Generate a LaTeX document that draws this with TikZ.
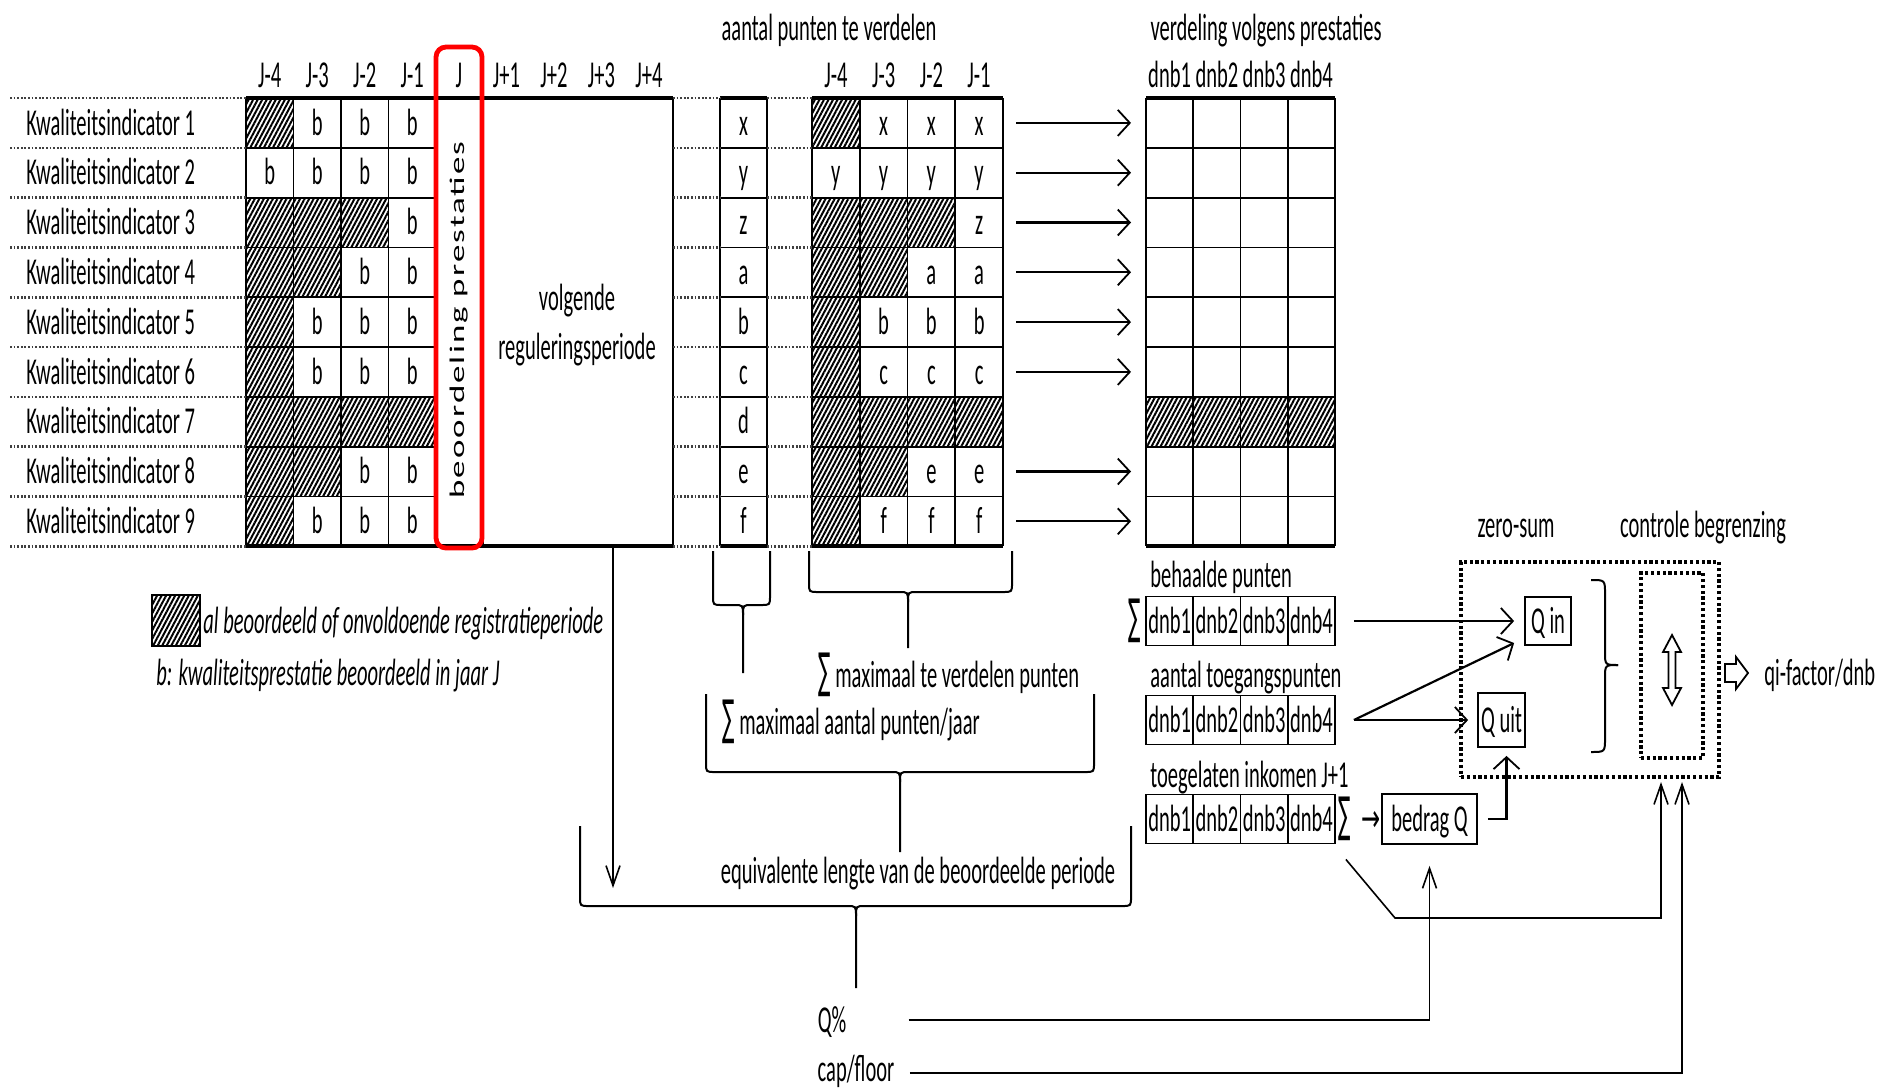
\documentclass[tikz,border=0pt]{standalone}
\usepackage{fontspec}
\setmainfont{Carlito}[FakeStretch=0.54]
\newfontfamily\symf{DejaVu Sans}[FakeStretch=0.38]
\newfontfamily\arrf{DejaVu Sans}[FakeStretch=0.6]
\newfontfamily\rotf{Carlito}[LetterSpace=6]
\usetikzlibrary{arrows.meta,patterns.meta}
\newcommand\Sig{{\symf\fontsize{24}{24}\selectfont ∑}}
\newcommand\mybrace[6]{%
 \draw[brace] (#1,#3) -- (#1,{#4-9}) .. controls (#1,#4) .. ({#1+9},#4) -- ({#5-9},#4) .. controls (#5,#4) .. (#5,{#4+10}) -- (#5,#6);
 \draw[brace] (#2,#3) -- (#2,{#4-9}) .. controls (#2,#4) .. ({#2-9},#4) -- ({#5+9},#4) .. controls (#5,#4) .. (#5,{#4+10});
}
\tikzset{
 txt/.style={font=\fontsize{19}{22}\selectfont, inner sep=0pt, text height=12.2pt, text depth=0pt},
 hatch/.style={pattern={Lines[angle=62,distance=2pt,line width=1pt]}},
 gridln/.style={line width=0.9pt},
 thickln/.style={line width=1.6pt},
 rowdot/.style={line width=1.3pt, dash pattern=on 0.9pt off 0.9pt, black!75},
 boxdot/.style={line width=2pt, dash pattern=on 1.6pt off 1.3pt},
 arr/.style={line width=1.1pt, -{Straight Barb[length=6pt,width=13pt,line width=0.9pt]}},
 thinarr/.style={line width=0.8pt, -{Straight Barb[length=10pt,width=7pt,line width=0.8pt]}},
 brace/.style={line width=1pt},
 cell/.style={txt, draw, line width=0.9pt, minimum width=23.6pt, minimum height=24.5pt},
}
\begin{document}
\begin{tikzpicture}[x=0.5pt,y=-0.5pt]
\useasboundingbox (0,0) rectangle (1877,1087);

% ---------- titles and headers
\node[txt] (t1) at (829,28) {aantal punten te verdelen};
\node[txt] (t2) at (1266,28) {verdeling volgens prestaties};
\foreach \t/\x [count=\n] in {J-4/269.75,J-3/317.25,J-2/364.75,J-1/412.25,J/459,J+1/506.5,J+2/554,J+3/601.5,J+4/649}
  \node[txt] (hl\n) at (\x,75) {\t};
\foreach \t/\x [count=\n] in {J-4/836,J-3/883.6,J-2/931.4,J-1/979}
  \node[txt] (hm\n) at (\x,75) {\t};
\foreach \t/\x [count=\n] in {dnb1/1169.6,dnb2/1216.9,dnb3/1264.1,dnb4/1311.4}
  \node[txt] (hr\n) at (\x,75) {\t};

% ---------- row labels
\foreach \i in {1,...,9}
  \node[txt,anchor=west] (k\i) at (26,{73.1+49.8*\i}) {Kwaliteitsindicator \i};

% ---------- cells: hatching and letters
\foreach \r/\h/\l in {1/1/x,2/0/y,3/3/z,4/2/a,5/1/b,6/1/c,7/4/d,8/2/e,9/1/f}{
  \pgfmathsetmacro\ya{98+49.8*(\r-1)}
  \pgfmathsetmacro\yc{\ya+24.9}
  \node[txt] (s\r) at (743.5,\yc) {\l};
  \foreach \c in {1,2,3,4}{
    \pgfmathsetmacro\xa{246+47.5*(\c-1)}
    \pgfmathsetmacro\xb{812+47.75*(\c-1)}
    \ifnum\c>\h
      \node[txt] (lb\r-\c) at ({\xa+23.75},\yc) {b};
      \node[txt] (mb\r-\c) at ({\xb+23.875},\yc) {\l};
    \else
      \fill[hatch] (\xa,\ya) rectangle ++(47.5,49.8);
      \fill[hatch] (\xb,\ya) rectangle ++(47.75,49.8);
    \fi
  }
}
\fill[hatch] (1146,396.8) rectangle (1335,446.6);

% ---------- grid lines
\foreach \x in {246,293.5,341,388.5} \draw[gridln] (\x,98) -- (\x,546);
\foreach \x in {720,767,812,859.75,907.5,955.25,1003,1146,1193.25,1240.5,1287.75,1335} \draw[gridln] (\x,98) -- (\x,546);
\foreach \k in {1,...,8}{
  \pgfmathsetmacro\yy{98+49.8*\k}
  \draw[gridln] (246,\yy) -- (436,\yy);
  \draw[gridln] (720,\yy) -- (767,\yy);
  \draw[gridln] (812,\yy) -- (1003,\yy);
  \draw[gridln] (1146,\yy) -- (1335,\yy);
}
\foreach \yy in {98,546}{
  \draw[thickln] (246,\yy) -- (673,\yy);
  \draw[thickln] (720,\yy) -- (767,\yy);
  \draw[thickln] (812,\yy) -- (1003,\yy);
  \draw[thickln] (1146,\yy) -- (1335,\yy);
}
\node[draw, gridln, minimum width=95pt, minimum height=224pt, inner sep=0pt] (volg) at (578,322) {};
\node[txt] (volg1) at (577,298) {volgende};
\node[txt] (volg2) at (577,347) {reguleringsperiode};

% dotted row lines
\foreach \k in {0,...,9}{
  \pgfmathsetmacro\yy{98+49.8*\k}
  \draw[rowdot] (10,\yy) -- (246,\yy);
  \draw[rowdot] (673,\yy) -- (720,\yy);
  \draw[rowdot] (767,\yy) -- (812,\yy);
}

% red J column
\draw[red, line width=2.4pt, rounded corners=5pt] (436,47) rectangle (482,548);
\node[rotate=90, inner sep=0pt] (beo) at (459,320) {\scalebox{0.97}[0.58]{\rotf\fontsize{18}{20}\selectfont beoordeling prestaties}};

% row arrows
\foreach \r in {1,2,3,4,5,6,8,9}{
  \coordinate (as\r) at (1016,{73.1+49.8*\r});
  \coordinate (ae\r) at (1131,{73.1+49.8*\r});
  \draw[arr] (as\r) -- (ae\r);
}

% ---------- legend
\filldraw[hatch, draw=black, line width=0.9pt] (152,595) rectangle (200,646);
\node[txt, anchor=west, font=\fontsize{19}{22}\selectfont\itshape] (leg1) at (203,621) {al beoordeeld of onvoldoende registratieperiode};
\node[txt, anchor=west, font=\fontsize{19}{22}\selectfont\itshape] (leg2) at (156,673) {b: kwaliteitsprestatie beoordeeld in jaar J};

% ---------- braces and their texts
\mybrace{713}{770}{551}{605}{743}{673}
\mybrace{809}{1012}{551}{592}{908}{648}
\mybrace{706}{1094}{694}{772}{900}{852}
\mybrace{580}{1131}{826}{906}{856}{988}
\node[txt, anchor=west] (sm1) at (818,675) {\Sig\ maximaal te verdelen punten};
\node[txt, anchor=west] (sm2) at (722,722) {\Sig\ maximaal aantal punten/jaar};
\node[txt] (eq) at (918,871) {equivalente lengte van de beoordeelde periode};
\coordinate (volgend) at (613,888);
\draw[thinarr] ([xshift=17.5pt]volg.south) -- (volgend);

% ---------- lower right section
\node[txt, anchor=west] (lbeh) at (1150,575) {behaalde punten};
\node[txt, anchor=west] (ltoe) at (1150,675) {aantal toegangspunten};
\node[txt, anchor=west] (link) at (1150,775) {toegelaten inkomen J+1};
\foreach \n [count=\c] in {dnb1,dnb2,dnb3,dnb4}{
  \node[cell] (bp\c) at ({1146+47.25*(\c-0.5)},621) {\n};
  \node[cell] (tp\c) at ({1146+47.25*(\c-0.5)},720) {\n};
  \node[cell] (ik\c) at ({1146+47.25*(\c-0.5)},819) {\n};
}
\node[txt] (sig1) at (1135,621) {\Sig};
\node[txt] (sig2) at (1345,819) {\Sig};
\node[txt] (sarr) at (1371,819) {{\arrf →}};
\node[cell, minimum width=47.5pt, minimum height=25pt] (bq) at (1429.5,819) {bedrag Q};
\node[cell, minimum width=23pt, minimum height=24pt] (qin) at (1548,621) {Q in};
\node[cell, minimum width=23.5pt, minimum height=27pt] (quit) at (1501.5,720) {Q uit};

\node[draw, boxdot, minimum width=129pt, minimum height=107.5pt, inner sep=0pt] (zs) at (1590,669.5) {};
\node[draw, boxdot, minimum width=31pt, minimum height=92.5pt, inner sep=0pt] (cb) at (1672,665.5) {};
\node[txt] (lzs) at (1516,525) {zero-sum};
\node[txt] (lcb) at (1703,525) {controle begrenzing};
\node[txt, anchor=west] (qi) at (1764,673) {qi-factor/dnb};

% right brace
\draw[brace] (1591,580) .. controls (1605,580) .. (1605,594) -- (1605,652) .. controls (1605,665) .. (1618,665);
\draw[brace] (1591,752) .. controls (1605,752) .. (1605,738) -- (1605,678) .. controls (1605,665) .. (1618,665);
% double arrow
\draw[line width=0.9pt] (1672,635) -- (1681,652) -- (1675.5,652) -- (1675.5,688) -- (1681,688) -- (1672,705) -- (1663,688) -- (1668.5,688) -- (1668.5,652) -- (1663,652) -- cycle;
% block arrow
\draw[line width=0.9pt] (1725,664) -- (1736,664) -- (1736,657) -- (1748,673) -- (1736,689) -- (1736,682) -- (1725,682) -- cycle;

% connectors
\coordinate (bstart) at ([xshift=9pt]bp4.east);
\coordinate (tstart) at ([xshift=9pt]tp4.east);
\draw[arr] (bstart) -- ([xshift=-5pt]qin.west);
\draw[arr] (tstart) -- ([xshift=-4.5pt]quit.west);
\draw[arr] (tstart) -- ([xshift=-5pt,yshift=-11pt]qin.west);
\draw[arr] ([xshift=5pt]bq.east) -| ([xshift=2.5pt,yshift=-4pt]quit.south);

\node[txt] (qpct) at (832,1020) {Q\%};
\node[txt] (cf) at (856,1069) {cap/floor};
\coordinate (zsin1) at (1661,782);
\coordinate (zsin2) at (1682,782);
\draw[thinarr] ([xshift=31pt]qpct.east) -| ([yshift=-10.5pt]bq.south);
\draw[thinarr] ([xshift=7.5pt,yshift=-2pt]cf.east) -| (zsin2);
\draw[thinarr] ([xshift=5pt,yshift=-7.5pt]ik4.south east) -- (1395,918) -| (zsin1);
\end{tikzpicture}
\end{document}
